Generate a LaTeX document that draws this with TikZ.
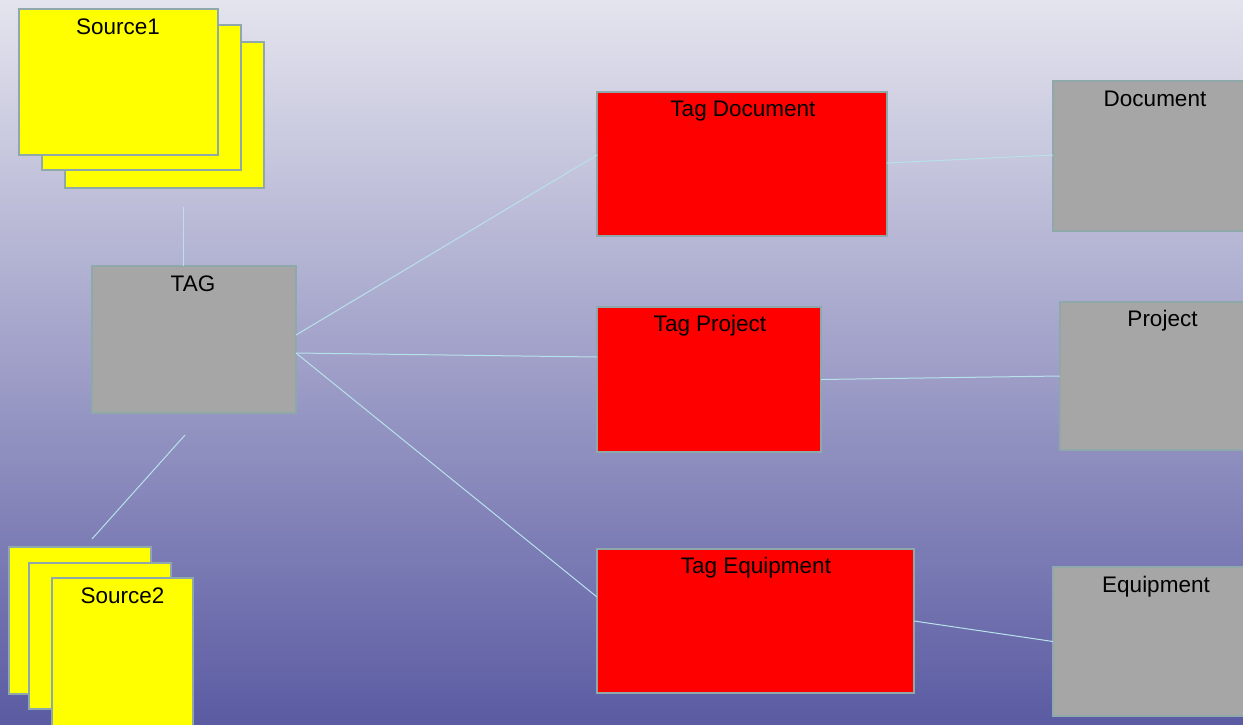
\documentclass[tikz,border=0pt]{standalone}
\usepackage{fontspec}
\setmainfont{Liberation Sans}
\definecolor{bgtop}{HTML}{E4E4EE}
\definecolor{bgbot}{HTML}{5B5BA3}
\definecolor{edgec}{HTML}{8FA8AA}
\definecolor{linkc}{HTML}{B8E2EA}
\definecolor{grayf}{HTML}{A6A6A6}
\definecolor{yelf}{HTML}{FFFF00}
\definecolor{redf}{HTML}{FF0000}
\tikzset{
  basebox/.style={draw=edgec, line width=2pt, inner sep=0pt, outer sep=0pt, anchor=north west},
  ybox/.style={basebox, fill=yelf},
  rbox/.style={basebox, fill=redf},
  gbox/.style={basebox, fill=grayf},
  lbl/.style={anchor=base, inner sep=0pt, font=\fontsize{22.5}{27}\selectfont},
  link/.style={draw=linkc, line width=1pt}
}
\begin{document}
\begin{tikzpicture}[x=1pt,y=-1pt]
\useasboundingbox (0,0) rectangle (1243,724);
\clip (0,0) rectangle (1243,724);
\shade[top color=bgtop, bottom color=bgbot] (0,0) rectangle (1243,724);

% Source1 stack
\node[ybox, minimum width=199pt, minimum height=146pt] (s1c) at (65,42) {};
\node[ybox, minimum width=199pt, minimum height=145pt] (s1b) at (42,25) {};
\node[ybox, minimum width=199pt, minimum height=146pt] (s1a) at (19,9) {};
\node[lbl] (s1l) at (118,34) {Source1};

% Source2 stack
\node[ybox, minimum width=142pt, minimum height=147pt] (s2a) at (9,547) {};
\node[ybox, minimum width=142pt, minimum height=146pt] (s2b) at (29,563) {};
\node[ybox, minimum width=141pt, minimum height=160pt] (s2c) at (52,578) {};
\node[lbl] (s2l) at (122.5,603) {Source2};

% TAG
\node[gbox, minimum width=204pt, minimum height=147pt] (tag) at (92,266) {};
\node[lbl] (tagl) at (193,291) {TAG};

% middle column
\node[rbox, minimum width=290pt, minimum height=144pt] (tdoc) at (597,92) {};
\node[lbl] (tdocl) at (743,116) {Tag Document};
\node[rbox, minimum width=224pt, minimum height=145pt] (tproj) at (597,307) {};
\node[lbl] (tprojl) at (710,331) {Tag Project};
\node[rbox, minimum width=317pt, minimum height=144pt] (teq) at (597,549) {};
\node[lbl] (teql) at (756,573) {Tag Equipment};

% right column
\node[gbox, minimum width=200pt, minimum height=150pt] (doc) at (1053,81) {};
\node[lbl] (docl) at (1155,106) {Document};
\node[gbox, minimum width=200pt, minimum height=148pt] (proj) at (1060,302) {};
\node[lbl] (projl) at (1162.5,326) {Project};
\node[gbox, minimum width=200pt, minimum height=149pt] (eq) at (1053,567) {};
\node[lbl] (eql) at (1156,592) {Equipment};

% free ends
\coordinate (c1) at (183,207);
\coordinate (c2) at (185,435);
\coordinate (c3) at (92,539);

% connectors
\draw[link] (c1) -- (c1 |- tag.north);
\draw[link] (c2) -- (c3);
\draw[link] ([yshift=4.5pt]tag.east) -- ([yshift=9pt]tdoc.west);
\draw[link] ([yshift=-13.5pt]tag.east) -- ([yshift=22.5pt]tproj.west);
\draw[link] ([yshift=-13.5pt]tag.east) -- ([yshift=24pt]teq.west);
\draw[link] ([yshift=1pt]tdoc.east) -- ([yshift=1pt]doc.west);
\draw[link] (tproj.east) -- (proj.west);
\draw[link] (teq.east) -- (eq.west);
\end{tikzpicture}
\end{document}
